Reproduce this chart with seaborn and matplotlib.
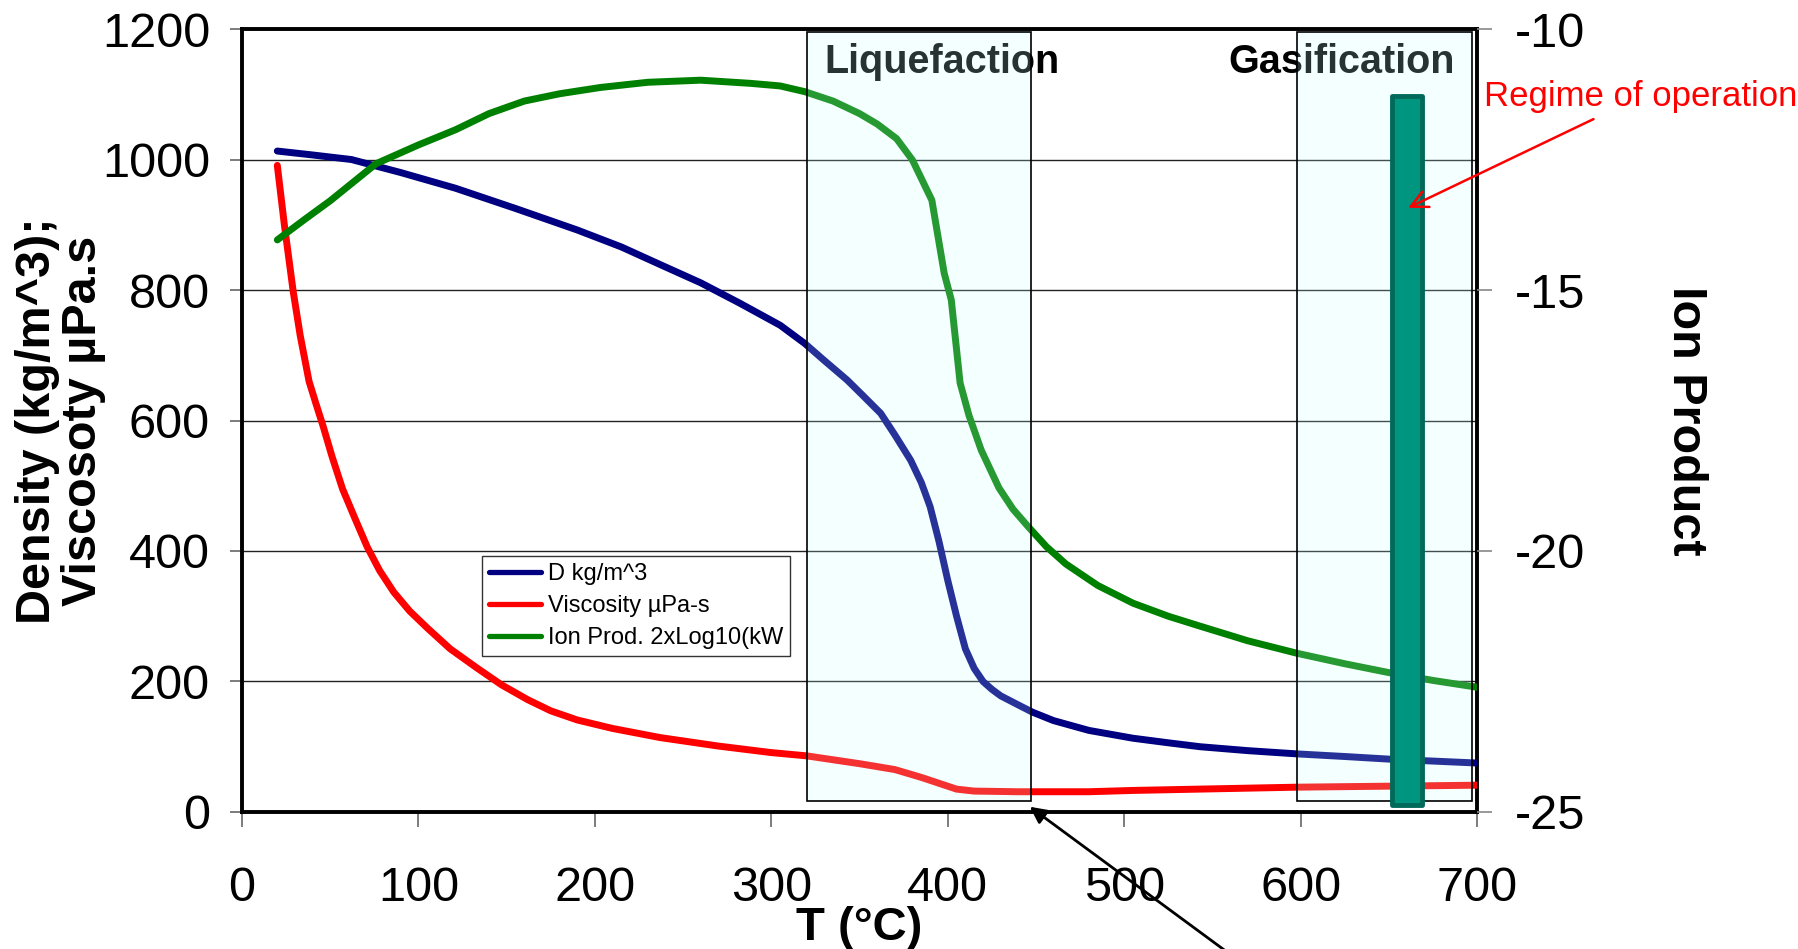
import matplotlib
matplotlib.use("Agg")
import matplotlib.pyplot as plt
import seaborn as sns
import pandas as pd
from matplotlib.patches import Rectangle

# ---------------- data ----------------
T_dens = [20, 40, 62, 90, 121, 155, 190, 215, 237, 260, 282, 305, 319, 330, 343, 352,
          362, 370, 379, 385, 390, 395, 400, 405, 410, 415, 420, 425, 430, 440, 448,
          460, 480, 505, 525, 543, 570, 598, 625, 650, 675, 700]
density = [1013, 1007, 1000, 980, 956, 925, 892, 866, 839, 811, 780, 746, 718, 692, 662,
           638, 611, 578, 539, 505, 468, 415, 355, 300, 250, 220, 200, 188, 178, 164,
           153, 140, 125, 113, 106, 100, 94, 89, 85, 81, 78, 75]

T_visc = [20, 24, 29, 33, 38, 42, 46, 51, 57, 64, 71, 78, 86, 95, 105, 118, 133, 147,
          162, 175, 190, 210, 237, 270, 300, 320, 350, 370, 385, 395, 405, 415, 440,
          480, 505, 598, 700]
viscosity = [991, 900, 798, 730, 660, 625, 591, 545, 495, 450, 406, 370, 337, 308, 282,
             250, 221, 195, 172, 155, 141, 128, 114, 101, 91, 86, 74, 65, 53, 44, 35,
             32, 31, 31, 33, 38, 41]

T_ion = [20, 35, 50, 76, 100, 121, 140, 160, 180, 203, 230, 260, 288, 305, 319, 335,
         350, 360, 371, 380, 391, 398, 402, 407, 412, 419, 429, 437, 446, 456, 467,
         485, 505, 525, 543, 570, 598, 625, 650, 675, 700]
ion_product = [-14.04, -13.66, -13.29, -12.58, -12.22, -11.93, -11.62, -11.38, -11.24,
               -11.12, -11.02, -10.98, -11.04, -11.09, -11.2, -11.38, -11.62, -11.82,
               -12.1, -12.51, -13.28, -14.68, -15.19, -16.78, -17.4, -18.07, -18.79,
               -19.2, -19.55, -19.92, -20.25, -20.66, -21.0, -21.25, -21.44, -21.72,
               -21.96, -22.16, -22.33, -22.48, -22.61]

series_labels = ["D kg/m^3", "Viscosity \u00b5Pa-s", "Ion Prod. 2xLog10(kW"]
x_ticks = [0, 100, 200, 300, 400, 500, 600, 700]
y_ticks = [0, 200, 400, 600, 800, 1000, 1200]
y2_ticks = [-25, -20, -15, -10]

liq_region = (320, 447, 17, 1195)      # x0, x1, y0, y1 (left-axis units)
gas_region = (598, 697, 17, 1195)
regime_bar = (652, 669, 10, 1097)

df_d = pd.DataFrame({"T": T_dens, "v": density})
df_v = pd.DataFrame({"T": T_visc, "v": viscosity})
df_i = pd.DataFrame({"T": T_ion, "v": ion_product})

# ---------------- style ----------------
sns.set_theme(style="white")
plt.rcParams["font.family"] = ["Liberation Sans", "DejaVu Sans"]
plt.rcParams["axes.unicode_minus"] = False

fig = plt.figure(figsize=(17.98, 9.49), dpi=100)
ax = fig.add_axes([0.1346, 0.1444, 0.6869, 0.825])
ax2 = ax.twinx()

lw = 5
sns.lineplot(data=df_d, x="T", y="v", ax=ax, color="#000080", lw=lw, legend=False,
             zorder=3)
sns.lineplot(data=df_v, x="T", y="v", ax=ax, color="#ff0000", lw=lw, legend=False,
             zorder=3)
sns.lineplot(data=df_i, x="T", y="v", ax=ax2, color="#008000", lw=lw, legend=False,
             zorder=2)

ax.set_xlim(0, 700)
ax.set_ylim(0, 1200)
ax2.set_ylim(-25, -10)
ax.set_xticks(x_ticks)
ax.set_yticks(y_ticks)
ax2.set_yticks(y2_ticks)

ax.yaxis.grid(True, color="#222222", lw=1.0)
ax.xaxis.grid(False)
ax.set_axisbelow(True)

for s in ax.spines.values():
    s.set_visible(True)
    s.set_color("black")
    s.set_linewidth(2.8)
for s in ax2.spines.values():
    s.set_visible(False)

fs = 35
ax.tick_params(axis="y", labelsize=fs, length=9, width=1.2, color="#666666",
               labelcolor="black", direction="out", pad=14, left=True)
ax.tick_params(axis="x", labelsize=fs, length=11, width=1.2, color="#666666",
               labelcolor="black", direction="out", pad=28, bottom=True)
ax2.tick_params(axis="y", labelsize=fs, length=11, width=1.2, color="#888888",
                labelcolor="black", direction="out", pad=16, right=True)

# region texts (beneath the translucent overlay)
ax.text(397, 1150, "Liquefaction", ha="center", va="center", fontsize=28.5,
        fontweight="bold", color="black", zorder=2)
ax.text(623, 1150, "Gasification", ha="center", va="center", fontsize=28.5,
        fontweight="bold", color="black", zorder=2)

# translucent overlays and box edges (on top axes)
for (x0, x1, y0, y1) in (liq_region, gas_region):
    ax2.add_patch(Rectangle((x0, y0), x1 - x0, y1 - y0, transform=ax.transData,
                            facecolor="#c8ffff", alpha=0.2, edgecolor="none", zorder=5))
    ax2.add_patch(Rectangle((x0, y0), x1 - x0, y1 - y0, transform=ax.transData,
                            facecolor="none", edgecolor="black", lw=1.2, zorder=6))

bx0, bx1, by0, by1 = regime_bar
ax2.add_patch(Rectangle((bx0, by0), bx1 - bx0, by1 - by0, transform=ax.transData,
                        facecolor="#00957f", edgecolor="#006a5a", lw=3.5,
                        joinstyle="round", zorder=7))
ax2.set_ylim(-25, -10)

# labels
ax.set_xlabel("T (\u00b0C)", fontsize=34, fontweight="bold", labelpad=-4,
              color="black")
ax.set_ylabel("Density (kg/m^3);\nViscosoty \u00b5Pa.s", fontsize=35,
              fontweight="bold", color="black", linespacing=1.05)
ax.yaxis.label.set_va("center")
ax.yaxis.set_label_coords(-0.147, 0.5)
ax2.set_ylabel("Ion Product", fontsize=35, fontweight="bold", rotation=270,
               color="black")
ax2.yaxis.label.set_va("center")
ax2.yaxis.set_label_coords(1.169, 0.5)

# annotations
ax2.text(704, 1097, "Regime of operation", transform=ax.transData, fontsize=25,
         color="#ff0000", ha="left", va="center", clip_on=False, zorder=10)
ax2.annotate("", xy=(661, 926), xytext=(766, 1062), xycoords=ax.transData,
             textcoords=ax.transData,
             arrowprops=dict(arrowstyle="->", color="#ff0000", lw=1.8,
                             mutation_scale=30, shrinkA=0, shrinkB=0),
             annotation_clip=False, zorder=10)
ax2.annotate("", xy=(446.5, 8), xytext=(566, -230), xycoords=ax.transData,
             textcoords=ax.transData,
             arrowprops=dict(arrowstyle="-|>", color="black", lw=2,
                             mutation_scale=25, shrinkA=0, shrinkB=0),
             annotation_clip=False, zorder=8)

# legend
handles = [ax.lines[0], ax.lines[1], ax2.lines[0]]
leg = ax2.legend(handles, series_labels, loc="upper left",
                 bbox_to_anchor=(0.194, 0.327), bbox_transform=ax.transAxes,
                 borderaxespad=0, fontsize=17, frameon=True, fancybox=False,
                 edgecolor="#333333", framealpha=1, borderpad=0.3,
                 labelspacing=0.42, handlelength=2.2, handletextpad=0.3)
leg.get_frame().set_linewidth(1.0)
leg.set_zorder(9)
for t in leg.get_texts():
    t.set_color("black")
for h in leg.get_lines():
    h.set_linewidth(3.8)

fig.savefig("out.png", dpi=100)
